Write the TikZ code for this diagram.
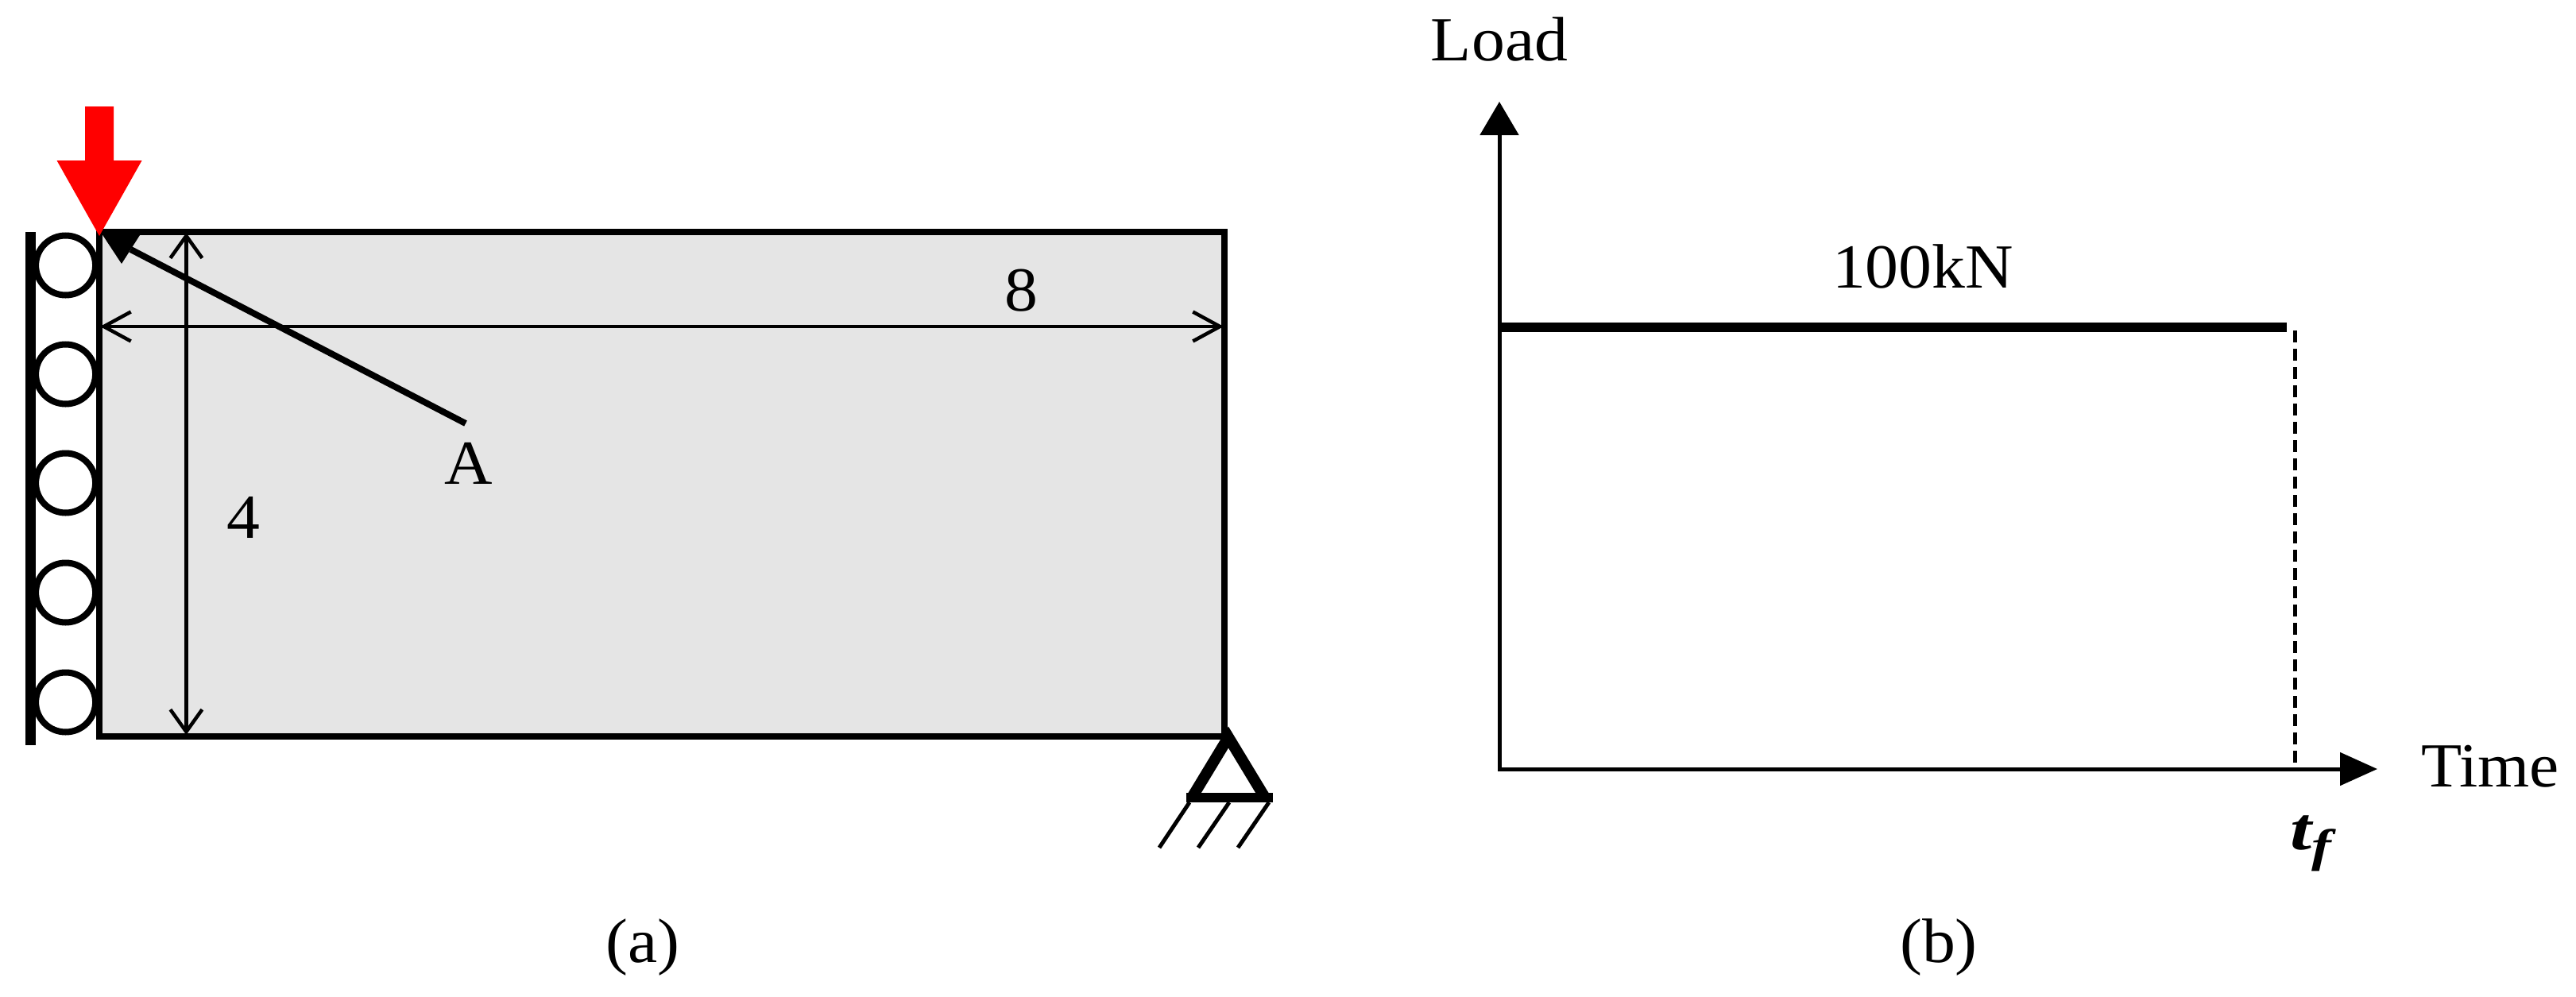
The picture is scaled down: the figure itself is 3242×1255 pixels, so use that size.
\documentclass[tikz,border=0pt]{standalone}
\usepackage{fontspec}
\setmainfont[FakeStretch=1.06]{Liberation Serif}
\newfontfamily\tffont[FakeStretch=1.28]{Liberation Serif}
\usetikzlibrary{arrows.meta}
\definecolor{panelgray}{HTML}{E5E5E5}
\tikzset{
  lbl/.style={inner sep=0pt,outer sep=0pt,anchor=base,font=\fontsize{79}{90}\selectfont},
  frameline/.style={line width=8pt,draw=black,fill=panelgray,line join=miter},
  roller/.style={circle,draw=black,fill=white,line width=8pt,minimum size=75pt,inner sep=0pt,outer sep=0pt},
  dimv/.style={line width=4.5pt,{Straight Barb[length=28pt,width=40pt]}-{Straight Barb[length=28pt,width=40pt]}},
  dimh/.style={line width=4.5pt,{Straight Barb[length=34pt,width=37pt]}-{Straight Barb[length=34pt,width=37pt]}},
  hatchline/.style={line width=5pt},
  axisline/.style={line width=5pt},
}
\begin{document}
\begin{tikzpicture}[x=1pt,y=-1pt]
\useasboundingbox (0,0) rectangle (3242,1255);
% panel a
\draw[frameline] (125,292) rectangle (1541,927);
\foreach \n/\yy in {1/334,2/471,3/608,4/746,5/884}{
  \node[roller] (r\n) at (82.6,\yy) {};
}
\draw[line width=13pt] (38.5,292) coordinate (wa) -- (38.5,938) coordinate (wb);
\draw[line width=8pt] (125,288) -- (125,931);
% load arrow
\fill[red] (107,134) -- (143,134) -- (143,202) -- (178.6,202) -- (125,297) -- (71.5,202) -- (107,202) -- cycle;
% dimensions
\coordinate (d1) at (234.4,293);
\coordinate (d2) at (234.4,925);
\coordinate (d3) at (126,411);
\coordinate (d4) at (1540,411);
\draw[dimv] (d1) -- (d2);
\draw[dimh] (d3) -- (d4);
% leader to A
\node[lbl] (A) at (590,609) {A};
\coordinate (atip) at (128,294);
\coordinate (aend) at (586,533);
\draw[line width=8pt] (aend) -- (164.5,314);
\fill (atip) -- (176,296) -- (153,332) -- cycle;
\node[lbl] (four) at (306,677) {4};
\node[lbl] (eight) at (1285,391) {8};
% support
\draw[line width=14pt,line join=miter] (1500,1004) -- (1546,928) -- (1592,1004);
\draw[line width=12pt] (1493,1004) -- (1602,1004);
\draw[hatchline] (1497,1010) -- (1459,1067);
\draw[hatchline] (1547,1010) -- (1508,1067);
\draw[hatchline] (1597,1010) -- (1558,1067);
\node[lbl] (capa) at (809,1211) {(a)};
% panel b
\coordinate (origin) at (1887,968);
\coordinate (ytip) at (1887,128);
\coordinate (xtip) at (2992,968);
\draw[axisline,-{Triangle[length=42pt,width=48pt]}] (origin) -- (ytip);
\draw[axisline,-{Triangle[length=47pt,width=41pt]}] (1885,968) -- (xtip);
\coordinate (ls) at (1888,412);
\coordinate (le) at (2878,412);
\draw[line width=12pt] (ls) -- (le);
\coordinate (ds) at (2888,416);
\coordinate (de) at (2888,965);
\draw[line width=5pt,dash pattern=on 15pt off 8pt] (ds) -- (de);
\node[lbl] (load) at (1887,77) {Load};
\node[lbl] (kn) at (2420,362) {100kN};
\node[lbl] (time) at (3134,990) {Time};
\node[lbl,anchor=base west,font=\fontsize{76}{80}\selectfont\tffont\bfseries\itshape] (tf) at (2882,1069) {t\raisebox{-15pt}{\fontsize{58}{60}\selectfont f}};
\node[lbl] (capb) at (2440,1211) {(b)};
\end{tikzpicture}
\end{document}
